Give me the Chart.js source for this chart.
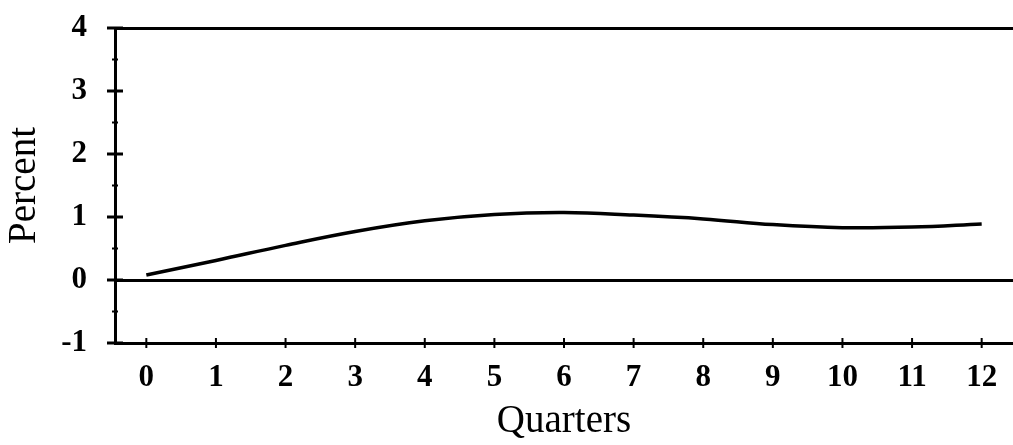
<!DOCTYPE html>
<html>
<head>
<meta charset="utf-8">
<script src="https://cdn.jsdelivr.net/npm/chart.js@4"></script>
<style>
  body { margin: 0; background: #fff; }
  #wrap { width: 1013px; height: 445px; }
</style>
</head>
<body>
<div id="wrap"><canvas id="grafico" width="1013" height="445"></canvas></div>
<script>
// datos
const quarters = [0, 1, 2, 3, 4, 5, 6, 7, 8, 9, 10, 11, 12];
const percent = [0.08, 0.31, 0.55, 0.77, 0.94, 1.04, 1.07, 1.03, 0.97, 0.88, 0.83, 0.84, 0.89];
const yTicks = [-1, 0, 1, 2, 3, 4];
const yMinorTicks = [-0.5, 0.5, 1.5, 2.5, 3.5];

const serif = "'Liberation Serif', 'DejaVu Serif', serif";

// marcas de los ejes (cruzan el eje)
const tickMarks = {
    id: 'tickMarks',
    afterDraw(chart) {
        const c = chart.ctx;
        const xs = chart.scales.x;
        const ys = chart.scales.y;
        const ax = chart.chartArea.left;
        const ay = chart.chartArea.bottom;
        c.save();
        c.strokeStyle = '#000';
        c.lineWidth = 3;
        yTicks.forEach(v => {
            const py = ys.getPixelForValue(v);
            c.beginPath();
            c.moveTo(ax - 8, py);
            c.lineTo(ax + 8, py);
            c.stroke();
        });
        c.lineWidth = 2;
        yMinorTicks.forEach(v => {
            const py = ys.getPixelForValue(v);
            c.beginPath();
            c.moveTo(ax - 3, py);
            c.lineTo(ax + 3, py);
            c.stroke();
        });
        quarters.forEach(v => {
            const px = xs.getPixelForValue(v);
            c.beginPath();
            c.moveTo(px, ay - 5);
            c.lineTo(px, ay + 5);
            c.stroke();
        });
        c.restore();
    }
};

const ctx = document.getElementById('grafico');

new Chart(ctx, {
    type: 'line',
    data: {
        labels: quarters,
        datasets: [{
            label: 'Percent',
            data: quarters.map((q, i) => ({ x: q, y: percent[i] })),
            borderColor: '#000',
            borderWidth: 3.5,
            pointRadius: 0,
            tension: 0.4,
            fill: false
        }]
    },
    options: {
        responsive: false,
        animation: false,
        layout: { padding: { top: 28, right: 0, left: 0, bottom: 0 } },
        plugins: {
            legend: { display: false },
            tooltip: { enabled: false }
        },
        scales: {
            x: {
                type: 'linear',
                min: -0.45,
                max: 12.45,
                afterBuildTicks: (scale) => { scale.ticks = quarters.map(v => ({ value: v })); },
                afterFit: (scale) => {
                    scale.height = 102;
                    scale.paddingLeft = 0;
                    scale.paddingRight = 0;
                },
                grid: { display: false, drawTicks: false },
                border: { display: true, color: '#000', width: 3 },
                ticks: {
                    color: '#000',
                    padding: 16,
                    maxRotation: 0,
                    autoSkip: false,
                    font: { family: serif, size: 31, weight: 'bold' }
                },
                title: {
                    display: true,
                    text: 'Quarters',
                    color: '#000',
                    padding: { top: 0, bottom: 0 },
                    font: { family: serif, size: 39 }
                }
            },
            y: {
                min: -1,
                max: 4,
                afterBuildTicks: (scale) => { scale.ticks = yTicks.map(v => ({ value: v })); },
                afterFit: (scale) => {
                    scale.width = 115;
                    scale.paddingTop = 0;
                    scale.paddingBottom = 0;
                },
                grid: {
                    drawTicks: false,
                    color: (c) => (c.tick && (c.tick.value === 0 || c.tick.value === 4)) ? '#000' : 'rgba(0,0,0,0)',
                    lineWidth: 3
                },
                border: { display: true, color: '#000', width: 3 },
                ticks: {
                    color: '#000',
                    padding: 28,
                    font: { family: serif, size: 31, weight: 'bold' }
                },
                title: {
                    display: true,
                    text: 'Percent',
                    color: '#000',
                    padding: { top: 1, bottom: 0 },
                    font: { family: serif, size: 39 }
                }
            }
        }
    },
    plugins: [tickMarks]
});
</script>
</body>
</html>
